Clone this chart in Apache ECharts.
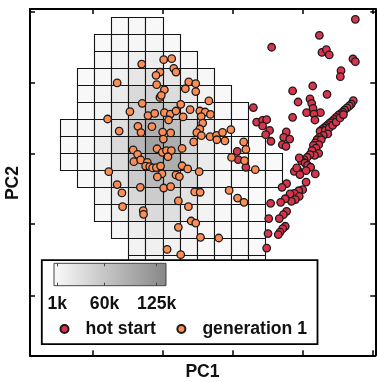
<!DOCTYPE html>
<html>
<head>
<meta charset="utf-8">
<script src="https://cdn.jsdelivr.net/npm/echarts@6/dist/echarts.min.js"></script>
<style>
html, body { margin: 0; padding: 0; background: #fff; }
#chart { width: 377px; height: 382px; }
</style>
</head>
<body>
<div id="chart"></div>
<script>
// Density grid of the reference population: one entry per grid row
// (row = lower edge in PC2 cell units), starting column, counts in thousands.
const densityRowY = [13, 12, 11, 10, 9, 8, 7, 6, 5, 4, 3, 2, 1, 0, -1];
const densityRowStart = [3, 2, 2, 1, 1, 1, 0, 0, 0, 1, 2, 2, 3, 4, 4];
const densityCounts = [
  [2, 3, 2],
  [1, 3, 5, 5, 2],
  [2, 8, 14, 16, 10, 3],
  [1, 4, 12, 22, 28, 24, 12, 3],
  [2, 6, 18, 38, 45, 36, 20, 8, 2],
  [2, 8, 24, 50, 65, 55, 28, 12, 4, 1],
  [1, 3, 12, 32, 68, 88, 70, 38, 15, 5, 1],
  [1, 3, 14, 38, 80, 105, 92, 45, 16, 6, 2, 1],
  [1, 3, 14, 36, 72, 98, 90, 46, 18, 6, 2, 1, 1],
  [2, 10, 28, 55, 75, 65, 38, 15, 5, 2, 1, 1],
  [6, 20, 40, 55, 48, 28, 12, 4, 1, 1],
  [3, 12, 28, 38, 32, 18, 8, 3, 1, 1],
  [6, 16, 22, 18, 10, 4, 2, 1, 1],
  [8, 12, 10, 6, 2, 1, 1, 1],
  [3, 5, 4, 2, 1, 1, 1, 1]
];

// Projected designs (PC1, PC2)
const hotStart = [
  [17.28,13.90],[15.17,12.96],[12.37,12.26],[15.32,11.96],[15.58,12.12],[15.75,11.81],
  [17.14,11.57],[17.28,11.41],[16.44,10.88],[16.40,10.53],[13.60,9.69],[14.78,9.98],
  [15.62,9.49],[14.62,9.22],[13.92,9.04],[14.72,8.96],[11.30,8.71],[14.42,8.41],
  [14.80,8.67],[15.23,8.41],[14.85,8.33],[13.60,8.14],[14.91,7.98],[11.49,7.86],
  [11.84,7.96],[12.08,8.00],[11.84,7.63],[12.25,7.37],[12.02,7.12],[12.33,6.73],
  [13.23,7.28],[13.08,6.96],[13.43,6.86],[13.00,6.53],[13.21,6.43],[10.35,6.14],
  [10.41,5.65],[10.86,5.20],
  [17.16,9.12],[17.04,8.92],[16.93,8.81],[16.79,8.69],[16.65,8.57],[16.54,8.45],
  [16.42,8.35],[16.28,8.26],[16.15,8.14],[16.03,8.02],[15.91,7.90],[15.79,7.81],
  [15.68,7.71],[15.56,7.61],[15.44,7.51],[15.32,7.41],[15.21,7.32],[15.52,7.37],
  [15.75,7.51],[15.95,7.67],[16.15,7.86],[16.38,8.10],[16.58,8.30],[15.66,7.16],
  [15.40,7.08],[15.17,6.96],[15.03,6.82],[15.28,6.82],[14.93,6.63],[15.13,6.53],
  [14.82,6.49],[14.97,6.33],[14.74,6.18],[15.13,6.02],[14.89,5.90],[14.62,5.94],
  [14.46,5.79],[14.27,5.65],[14.11,5.59],[13.99,5.75],[14.33,5.45],[14.48,5.32],
  [14.66,5.20],[14.39,5.00],[13.92,5.02],[13.70,4.96],[14.03,4.77],[14.93,4.81],
  [13.84,5.16],
  [13.25,4.24],[12.98,4.02],[14.39,4.33],[14.19,3.88],[13.96,3.82],[13.70,3.67],
  [13.45,3.63],[13.99,3.49],[13.76,3.30],[13.53,3.20],[13.17,3.35],[12.90,3.14],
  [12.31,3.08],[13.25,2.61],[13.06,2.41],[12.82,2.18],[12.20,2.18],[13.17,1.73],
  [13.02,1.59],[12.86,1.39],[12.76,1.24],[12.16,1.30],[12.08,0.45]
];

const generation1 = [
  [4.75,11.27],[6.04,11.53],[6.51,11.59],[6.63,11.02],[6.76,10.80],[5.82,10.80],
  [5.59,10.61],[3.31,10.16],[5.63,10.06],[6.08,9.76],[7.51,10.22],[7.92,10.12],
  [7.31,9.82],[7.92,9.65],[5.82,9.31],[5.90,9.43],[4.78,8.96],[4.06,8.47],
  [7.04,8.90],[8.69,9.10],[5.12,8.24],[5.51,8.37],[6.08,8.41],[6.43,8.33],
  [6.76,8.51],[6.33,7.98],[7.18,8.16],[7.59,8.59],[8.16,8.51],[8.47,8.45],
  [8.78,8.31],[8.24,8.18],[2.75,8.04],[4.53,7.61],[5.35,7.59],[3.43,7.33],
  [4.71,7.24],[5.98,7.27],[6.45,7.22],[8.33,7.80],[8.16,7.45],[7.98,7.24],
  [8.25,7.06],[8.76,7.00],[9.14,7.08],[9.49,7.25],[9.98,7.41],[9.63,6.75],
  [9.16,6.82],[7.80,6.69],[6.02,6.86],[5.65,6.29],[5.96,6.08],[6.20,6.18],
  [6.49,6.18],[6.29,5.82],[7.12,6.31],[4.25,6.22],[4.51,5.96],[4.29,5.53],
  [4.69,5.63],[5.08,5.49],[4.98,5.27],[5.22,5.24],[5.39,5.16],[5.61,5.18],
  [5.86,5.27],[5.94,4.82],[5.67,4.63],[6.76,4.75],[6.96,4.65],[7.12,5.29],
  [7.45,5.10],[8.12,4.94],[2.82,4.94],[3.31,4.18],[3.59,3.69],[4.67,4.02],
  [6.04,3.98],[6.45,4.06],[7.86,3.75],[8.18,3.73],[9.88,3.84],[10.37,3.39],
  [10.75,3.14],[3.63,2.88],[6.90,3.22],[7.49,2.88],[4.84,2.65],[4.86,2.43],
  [7.65,2.04],[7.92,1.92],[6.90,1.67],[8.20,1.08],[9.27,1.04],[6.24,0.37],
  [7.04,0.06],[10.73,6.69],[10.86,6.25],[10.02,5.78],[11.41,5.06],[10.78,5.59]
];

// Axis tick positions
const pc1Ticks = [1.88, 5.99, 10.10, 14.21, 18.32];
const pc2Ticks = [-2.37, 1.85, 5.98, 10.18, 14.35];
const colorbarTicks = [1, 60, 125];

const FONT = '"Liberation Sans", Arial, Helvetica, sans-serif';
const RED = '#d8344c';
const ORANGE = '#fc8d55';
const LOW = '#fafafa';
const HIGH = '#878787';

// flatten the density rows into [col, row, count] cells
const densityCells = [];
densityRowY.forEach(function (rowY, i) {
  densityCounts[i].forEach(function (count, j) {
    densityCells.push([densityRowStart[i] + j, rowY, count]);
  });
});

function frameAxis(position, min, max, ticks) {
  return {
    type: 'value', gridIndex: 0, position: position, min: min, max: max,
    axisLine: { show: true, onZero: false, lineStyle: { color: '#000', width: 2 } },
    axisTick: { show: true, inside: true, length: 5, customValues: ticks,
                lineStyle: { color: '#000', width: 1.5 } },
    axisLabel: { show: false },
    splitLine: { show: false }
  };
}

function colorbarAxis(position, withLabels) {
  return {
    type: 'value', gridIndex: 1, position: position, min: -3, max: 136.6, z: 20,
    axisLine: { show: false },
    axisTick: { show: true, inside: true, length: 3, customValues: colorbarTicks,
                lineStyle: { color: '#444', width: 1 } },
    axisLabel: withLabels ? {
      show: true, customValues: colorbarTicks, margin: 9,
      formatter: function (v) { return v + 'k'; },
      fontFamily: FONT, fontWeight: 'bold', fontSize: 17.6, color: '#111'
    } : { show: false },
    splitLine: { show: false }
  };
}

// snap to pixel centres so the 1px cell outlines stay crisp
function crisp(v) { return Math.round(v - 0.5) + 0.5; }

const chart = echarts.init(document.getElementById('chart'), null, { renderer: 'canvas' });

chart.setOption({
  animation: false,
  backgroundColor: '#fff',
  grid: [
    { left: 30, top: 9, right: 1.7, bottom: 26.7, outerBoundsMode: 'none', containLabel: false },
    { left: 54, top: 263.3, width: 112, height: 22.4, z: 20, show: true,
      borderColor: '#444', borderWidth: 1, outerBoundsMode: 'none',
      backgroundColor: { type: 'linear', x: 0, y: 0, x2: 1, y2: 0,
        colorStops: [{ offset: 0, color: LOW }, { offset: 1, color: HIGH }] } }
  ],
  xAxis: [
    frameAxis('bottom', -1.80, 18.45, pc1Ticks),
    frameAxis('top', -1.80, 18.45, pc1Ticks),
    colorbarAxis('bottom', true),
    colorbarAxis('top', false)
  ],
  yAxis: [
    frameAxis('left', -5.86, 14.51, pc2Ticks),
    frameAxis('right', -5.86, 14.51, pc2Ticks),
    { type: 'value', gridIndex: 1, show: false, min: 0, max: 1 }
  ],
  visualMap: {
    type: 'continuous', show: false, seriesIndex: 0, dimension: 2,
    min: 0, max: 136.6, inRange: { color: [LOW, HIGH] }
  },
  legend: {
    data: ['hot start', 'generation 1'],
    left: 59.5, top: 320, padding: 0, z: 20,
    icon: 'circle', itemWidth: 32, itemHeight: 8, itemGap: 20.5,
    selectedMode: false,
    textStyle: { fontFamily: FONT, fontWeight: 'bold', fontSize: 17.6, color: '#111' }
  },
  graphic: [
    { type: 'rect', z: 10, silent: true,
      shape: { x: 41.8, y: 260.2, width: 275.7, height: 84 },
      style: { fill: '#fff', stroke: '#000', lineWidth: 1.8 } },
    { type: 'text', x: 202.5, y: 372, silent: true,
      style: { text: 'PC1', align: 'center', verticalAlign: 'middle',
               font: 'bold 17.6px ' + FONT, fill: '#111' } },
    { type: 'text', x: 13, y: 183, rotation: Math.PI / 2, silent: true,
      style: { text: 'PC2', align: 'center', verticalAlign: 'middle',
               font: 'bold 17.6px ' + FONT, fill: '#111' } }
  ],
  series: [
    {
      type: 'custom', name: 'density', xAxisIndex: 0, yAxisIndex: 0, z: 2, silent: true,
      data: densityCells,
      renderItem: function (params, api) {
        const c = api.value(0), r = api.value(1);
        const p0 = api.coord([c, r + 1]);
        const p1 = api.coord([c + 1, r]);
        const x0 = crisp(p0[0]), y0 = crisp(p0[1]);
        const x1 = crisp(p1[0]), y1 = crisp(p1[1]);
        return {
          type: 'rect',
          shape: { x: x0, y: y0, width: x1 - x0, height: y1 - y0 },
          style: { fill: api.visual('color'), stroke: '#141414', lineWidth: 1.1 }
        };
      }
    },
    {
      type: 'scatter', name: 'hot start', xAxisIndex: 0, yAxisIndex: 0, z: 3, silent: true,
      data: hotStart, symbol: 'circle', symbolSize: 7.5,
      itemStyle: { color: RED, borderColor: '#1a1a1a', borderWidth: 1.3, opacity: 1 }
    },
    {
      type: 'scatter', name: 'generation 1', xAxisIndex: 0, yAxisIndex: 0, z: 4, silent: true,
      data: generation1, symbol: 'circle', symbolSize: 7.5,
      itemStyle: { color: ORANGE, borderColor: '#1a1a1a', borderWidth: 1.3, opacity: 1 }
    }
  ]
});
</script>
</body>
</html>
